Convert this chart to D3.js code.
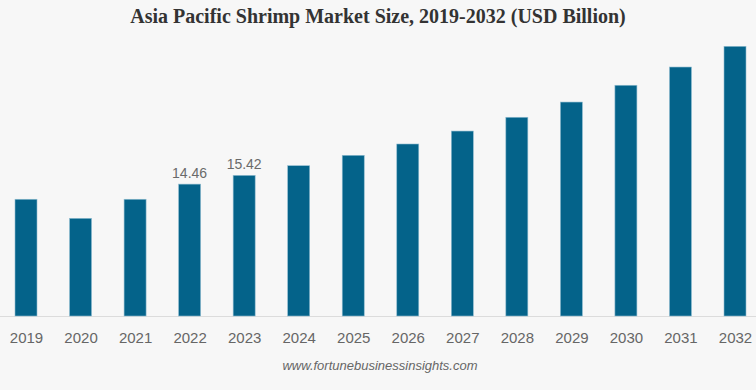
<!DOCTYPE html>
<html>
<head>
<meta charset="utf-8">
<script src="https://cdn.jsdelivr.net/npm/d3@7.9.0/dist/d3.min.js"></script>
<style>
  html, body { margin: 0; padding: 0; background: #f7f7f7; }
  svg { display: block; }
</style>
</head>
<body>
<svg id="chart" width="756" height="390"></svg>
<script>
// Asia Pacific shrimp market size, USD billion
const years = ['2019', '2020', '2021', '2022', '2023', '2024', '2025', '2026', '2027', '2028', '2029', '2030', '2031', '2032'];
const values = [12.80, 10.71, 12.80, 14.46, 15.42, 16.48, 17.62, 18.86, 20.28, 21.79, 23.46, 25.30, 27.30, 29.57];
const shownLabels = ['2022', '2023'];

const svg = d3.select('#chart');
const width = 756, baseY = 316;

svg.append('rect').attr('width', width).attr('height', 390).attr('fill', '#f7f7f7');

// title
svg.append('text')
  .attr('x', 378).attr('y', 23)
  .attr('text-anchor', 'middle')
  .attr('font-family', '"Liberation Serif", "Times New Roman", serif')
  .attr('font-weight', 'bold')
  .attr('font-size', 20)
  .attr('fill', '#333')
  .text('Asia Pacific Shrimp Market Size, 2019-2032 (USD Billion)');

let x = d3.scalePoint().domain(years).range([26, 735]);
let y = d3.scaleLinear().domain([0, 30]).range([baseY, baseY - 30 * 9.12]);
const barW = 22;

// baseline
svg.append('line')
  .attr('x1', 0).attr('x2', width)
  .attr('y1', baseY + 0.5).attr('y2', baseY + 0.5)
  .attr('stroke', '#dcdcdc');

svg.selectAll('rect.bar')
  .data(years)
  .join('rect')
  .attr('class', 'bar')
  .attr('x', (d) => x(d) - barW / 2)
  .attr('y', (d, i) => y(values[i]))
  .attr('width', barW)
  .attr('height', (d, i) => baseY - y(values[i]))
  .attr('fill', '#04638a')
  .attr('stroke', '#8fbcd0')
  .attr('stroke-width', 0.6);

// value labels on 2022 and 2023
years.forEach((yr, i) => {
  if (!shownLabels.includes(yr)) return;
  svg.append('text')
    .attr('x', x(yr)).attr('y', y(values[i]) - 6)
    .attr('text-anchor', 'middle')
    .attr('font-family', '"Liberation Sans", Arial, sans-serif')
    .attr('font-size', 14)
    .attr('fill', '#6a6a6a')
    .text(values[i].toFixed(2));
});

// year labels
let xAxis = svg.append('g')
  .attr('transform', `translate(0,${baseY})`)
  .call(d3.axisBottom(x).tickSize(0).tickPadding(16));
xAxis.select('.domain').remove();
xAxis.selectAll('text')
  .attr('font-family', '"Liberation Sans", Arial, sans-serif')
  .attr('font-size', 15)
  .attr('fill', '#666');

// source
svg.append('text')
  .attr('x', 380).attr('y', 370)
  .attr('text-anchor', 'middle')
  .attr('font-family', '"Liberation Sans", Arial, sans-serif')
  .attr('font-style', 'italic')
  .attr('font-size', 13)
  .attr('fill', '#666')
  .text('www.fortunebusinessinsights.com');
</script>
</body>
</html>
